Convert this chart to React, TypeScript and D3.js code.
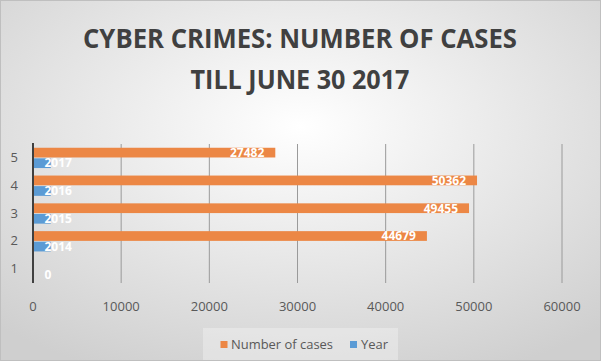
import * as d3 from "d3";

const W = 601;
const H = 361;

const categories = ["1", "2", "3", "4", "5"];
const cases: (number | null)[] = [null, 44679, 49455, 50362, 27482];
const years = [0, 2014, 2015, 2016, 2017];
const ticks = [0, 10000, 20000, 30000, 40000, 50000, 60000];
const seriesNames = ["Number of cases", "Year"];
const colors = ["#EC8745", "#5B9BD5"];

const FONT = "'Open Sans', 'DejaVu Sans', sans-serif";

export default function App() {
  const x = d3.scaleLinear().domain([0, 60000]).range([33, 562]);
  const y = d3
    .scaleBand<string>()
    .domain([...categories].reverse())
    .range([144, 283])
    .paddingInner(0.27)
    .paddingOuter(0.135);
  const sub = d3
    .scaleBand<string>()
    .domain(seriesNames)
    .range([0, y.bandwidth()])
    .paddingInner(0.08);

  return (
    <svg width={W} height={H} style={{ position: "absolute", left: 0, top: 0 }}>
      <defs>
        <radialGradient id="bg" cx="50%" cy="35%" r="75%">
          <stop offset="0%" stopColor="#ffffff" />
          <stop offset="100%" stopColor="#cfcfcf" />
        </radialGradient>
      </defs>
      <rect x={0.5} y={0.5} width={W - 1} height={H - 1} fill="url(#bg)" stroke="#bfbfbf" />

      <g fontFamily={FONT} fontWeight={700} fill="#404040" textAnchor="middle">
        <text x={300} y={48} fontSize={26.5} textLength={434} lengthAdjust="spacingAndGlyphs">
          CYBER CRIMES: NUMBER OF CASES
        </text>
        <text x={300} y={89} fontSize={26.5} textLength={219} lengthAdjust="spacingAndGlyphs">
          TILL JUNE 30 2017
        </text>
      </g>

      {/* gridlines */}
      {ticks.slice(1).map((t) => (
        <line key={t} x1={x(t)} x2={x(t)} y1={144} y2={283} stroke="#9a9a9a" strokeWidth={1} />
      ))}

      {/* bars */}
      {categories.map((c, i) => {
        const y0 = y(c)!;
        const yc = y0 + sub("Number of cases")!;
        const yy = y0 + sub("Year")!;
        const bh = sub.bandwidth();
        const v = cases[i];
        return (
          <g key={c}>
            {v != null && (
              <rect x={x(0)} y={yc} width={x(v) - x(0)} height={bh} fill={colors[0]} />
            )}
            <rect x={x(0)} y={yy} width={x(years[i]) - x(0)} height={bh} fill={colors[1]} />
            {v != null && (
              <text
                x={x(v) - 11}
                y={yc + bh / 2 + 4.3}
                textAnchor="end"
                fontFamily={FONT}
                fontWeight={700}
                fontSize={12}
                fill="#ffffff"
              >
                {v}
              </text>
            )}
            <text
              x={x(0) + 11.5}
              y={yy + bh / 2 + 4.3}
              fontFamily={FONT}
              fontWeight={700}
              fontSize={12}
              fill="#ffffff"
            >
              {years[i]}
            </text>
            <text
              x={18}
              y={y0 + y.bandwidth() / 2 + 4}
              textAnchor="end"
              fontFamily={FONT}
              fontSize={13}
              fill="#595959"
            >
              {c}
            </text>
          </g>
        );
      })}

      {/* axis line */}
      <line x1={x(0)} x2={x(0)} y1={143} y2={283} stroke="#404040" strokeWidth={2} />

      {/* x tick labels */}
      {ticks.map((t) => (
        <text
          key={t}
          x={x(t)}
          y={310.5}
          textAnchor="middle"
          fontFamily={FONT}
          fontSize={13}
          fill="#595959"
        >
          {t}
        </text>
      ))}

      {/* legend */}
      <rect x={203} y={328} width={195} height={32} fill="#f2f2f2" opacity={0.45} />
      <rect x={220.5} y={341} width={7} height={7} fill={colors[0]} />
      <text x={231} y={349} fontFamily={FONT} fontSize={13} fill="#595959" textLength={102} lengthAdjust="spacingAndGlyphs">
        {seriesNames[0]}
      </text>
      <rect x={350} y={341} width={7} height={7} fill={colors[1]} />
      <text x={361} y={349} fontFamily={FONT} fontSize={13} fill="#595959">
        {seriesNames[1]}
      </text>
    </svg>
  );
}
